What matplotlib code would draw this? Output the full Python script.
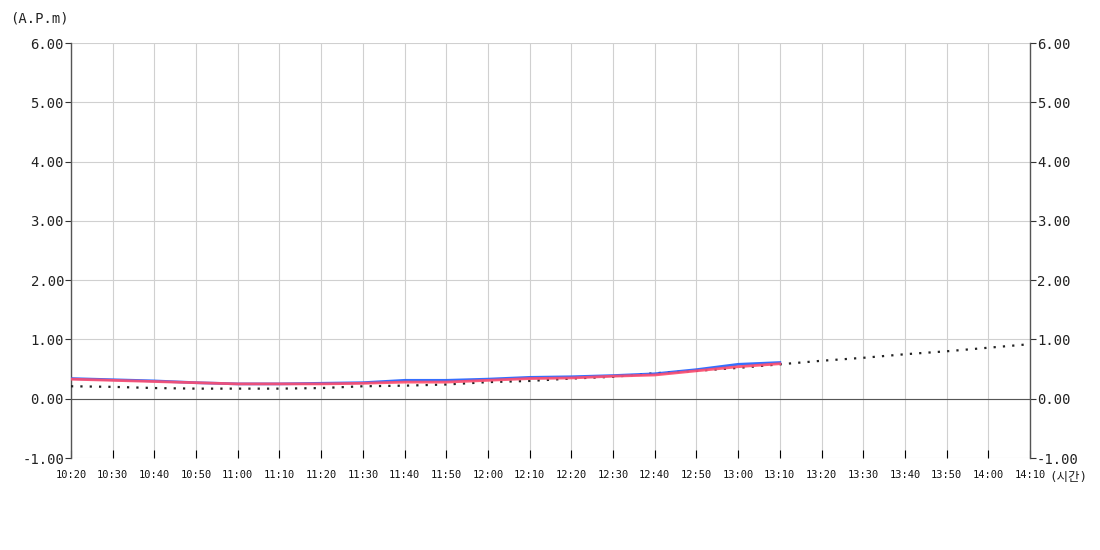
import matplotlib
matplotlib.use('Agg')
import matplotlib.pyplot as plt

plt.rcParams['font.family'] = ['DejaVu Sans Mono', 'Noto Sans CJK KR']

# minutes after 10:20
time_labels = ['10:20', '10:30', '10:40', '10:50', '11:00', '11:10', '11:20', '11:30',
               '11:40', '11:50', '12:00', '12:10', '12:20', '12:30', '12:40', '12:50',
               '13:00', '13:10', '13:20', '13:30', '13:40', '13:50', '14:00', '14:10']
minutes = list(range(0, 240, 10))

blue_vals = [0.34, 0.32, 0.30, 0.27, 0.25, 0.25, 0.26, 0.27, 0.31, 0.31,
             0.33, 0.36, 0.37, 0.39, 0.42, 0.49, 0.58, 0.61]
red_vals = [0.33, 0.31, 0.29, 0.27, 0.25, 0.25, 0.25, 0.26, 0.28, 0.28,
            0.31, 0.34, 0.35, 0.38, 0.40, 0.47, 0.54, 0.59]
dot_vals = [0.21, 0.20, 0.18, 0.17, 0.17, 0.17, 0.18, 0.21, 0.22, 0.24,
            0.28, 0.30, 0.34, 0.37, 0.43, 0.47, 0.52, 0.58, 0.64, 0.69,
            0.75, 0.80, 0.86, 0.92]
y_ticks = [-1, 0, 1, 2, 3, 4, 5, 6]

fig = plt.figure(figsize=(11, 5.5), dpi=100)
ax = fig.add_axes([71 / 1100, 1 - 458 / 550, 959 / 1100, 415 / 550])

ax.plot(minutes, dot_vals, color='#222222', linestyle=(0, (1, 3.2)), linewidth=1.6, zorder=3)
ax.plot(minutes[:len(blue_vals)], blue_vals, color='#1f5fff', linewidth=2, alpha=0.9, zorder=4)
ax.plot(minutes[:len(red_vals)], red_vals, color='#ff4d6d', linewidth=2, alpha=0.9, zorder=5)

ax.set_xlim(0, 230)
ax.set_ylim(-1, 6)
ax.set_xticks(minutes)
ax.set_xticklabels(time_labels, fontsize=7.5, color='#111111')
ax.set_yticks(y_ticks)
ax.set_yticklabels(['%.2f' % v for v in y_ticks], fontsize=10, color='#222222')

ax.grid(True, color='#d0d0d0', linewidth=0.8)
ax.axhline(0, color='#555555', linewidth=0.8, zorder=2)

for side in ['top', 'bottom']:
    ax.spines[side].set_visible(False)
for side in ['left', 'right']:
    ax.spines[side].set_color('#555555')
    ax.spines[side].set_linewidth(1)

ax.tick_params(axis='x', direction='in', length=6, color='black', pad=9)
ax.tick_params(axis='y', direction='out', length=4, color='#333333',
               left=True, right=True, labelleft=True, labelright=True, pad=1)

fig.text(10 / 1100, 1 - 19 / 550, '(A.P.m)', fontsize=10, va='center', ha='left', color='#222222')
fig.text(1049 / 1100, 1 - 477 / 550, '(시간)', fontsize=9, va='center', ha='left', color='#222222')

fig.savefig('out.png', dpi=100)
